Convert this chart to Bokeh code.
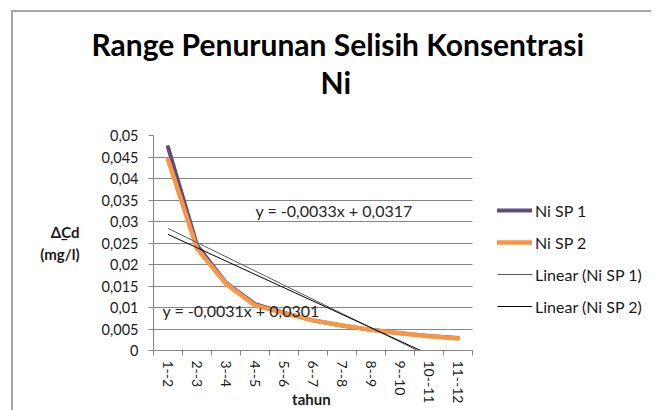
from bokeh.plotting import figure
from bokeh.models import (FixedTicker, CustomJSTickFormatter, Label, Legend,
                          LegendItem, Range1d, Title)
from bokeh.embed import file_html
from bokeh.resources import INLINE

# ---- data ----
categories = ["1--2", "2--3", "3--4", "4--5", "5--6", "6--7",
              "7--8", "8--9", "9--10", "10--11", "11--12"]
ni_sp1 = [0.0473, 0.0245, 0.0157, 0.0108, 0.0088, 0.0070,
          0.0058, 0.0048, 0.0040, 0.0034, 0.0029]
ni_sp2 = [0.0444, 0.0237, 0.0155, 0.0105, 0.0087, 0.0070,
          0.0058, 0.0048, 0.0040, 0.0033, 0.0028]
series_names = ["Ni SP 1", "Ni SP 2"]
trend_names = ["Linear (Ni SP 1)", "Linear (Ni SP 2)"]
trend_slope = [-0.0033, -0.0031]
trend_intercept = [0.0317, 0.0301]
trend_labels = ["y = -0,0033x + 0,0317", "y = -0,0031x + 0,0301"]
y_ticks = [0, 0.005, 0.01, 0.015, 0.02, 0.025, 0.03, 0.035, 0.04, 0.045, 0.05]
y_tick_labels = ["0", "0,005", "0,01", "0,015", "0,02", "0,025",
                 "0,03", "0,035", "0,04", "0,045", "0,05"]
title_lines = ["Range Penurunan Selisih Konsentrasi", "Ni"]
y_title = "\u0394\u0332Cd\n(mg/l)"
x_title = "tahun"

FONT = "Lato"
GRID = "#868686"
PLOT_W = 319      # width of the category area in px
FRAME_W = 498     # frame also holds the legend area on its right
FRAME_H = 215
n = len(categories)
x_lo, x_hi = 0.5, n + 0.5

p = figure(frame_width=FRAME_W, frame_height=FRAME_H,
           x_range=Range1d(x_lo, x_lo + n * FRAME_W / PLOT_W), y_range=Range1d(0, 0.05),
           output_backend="svg", toolbar_location=None, title=None,
           min_border_left=140, min_border_right=0,
           min_border_top=123, min_border_bottom=58)
p.styles = {"margin-left": "11px", "margin-top": "10px",
            "border-left": "2px solid #a6a6a6", "border-top": "2px solid #a6a6a6"}
p.outline_line_color = None

x = list(range(1, n + 1))

# grid lines limited to the category area
try:
    p.ygrid.cross_bounds = (x_lo, x_hi)
    p.ygrid.ticker = FixedTicker(ticks=y_ticks)
    p.ygrid.grid_line_color = GRID
    p.ygrid.grid_line_width = 1
except Exception:
    p.ygrid.visible = False
    p.segment(x0=[x_lo] * len(y_ticks), x1=[x_hi] * len(y_ticks), y0=y_ticks, y1=y_ticks,
              line_color=GRID, line_width=1, level="underlay")
p.xgrid.visible = False

r1 = p.line(x, ni_sp1, line_color="#604A7B", line_width=4, line_join="round", line_cap="round")
r2 = p.line(x, ni_sp2, line_color="#F79646", line_width=4.5, line_join="round", line_cap="round")

xs = [x[0], x[-1]]
t1 = p.line(xs, [trend_slope[0] * v + trend_intercept[0] for v in xs], line_color="#595959", line_width=1)
t2 = p.line(xs, [trend_slope[1] * v + trend_intercept[1] for v in xs], line_color="#000000", line_width=1)

# x axis
p.xaxis.bounds = (x_lo, x_hi)
p.xaxis.ticker = FixedTicker(ticks=x, minor_ticks=[i + 0.5 for i in range(0, n + 1)])
p.xaxis.formatter = CustomJSTickFormatter(args=dict(cats=categories),
                                          code="return cats[Math.round(tick) - 1] || '';")
p.xaxis.major_label_orientation = "vertical"
p.xaxis.major_tick_line_color = None
p.xaxis.major_tick_out = 5
p.xaxis.major_tick_in = 0
p.xaxis.minor_tick_line_color = GRID
p.xaxis.minor_tick_out = 5
p.xaxis.minor_tick_in = 0
p.xaxis.axis_line_color = GRID
p.xaxis.major_label_standoff = 5
p.xaxis.major_label_text_font = FONT
p.xaxis.major_label_text_font_size = "14px"
p.xaxis.major_label_text_color = "#1a1a1a"
# the label is centred on the whole frame; trailing no-break spaces move the
# visible word back to the centre of the category axis
p.xaxis.axis_label = x_title + "\u00a0" * 50
p.xaxis.axis_label_standoff = -16
p.xaxis.axis_label_text_font = FONT
p.xaxis.axis_label_text_font_style = "bold"
p.xaxis.axis_label_text_font_size = "15px"
p.xaxis.axis_label_text_color = "#1a1a1a"

# y axis
p.yaxis.ticker = FixedTicker(ticks=y_ticks)
p.yaxis.formatter = CustomJSTickFormatter(args=dict(vals=y_ticks, labs=y_tick_labels), code="""
let best = 0;
for (let i = 0; i < vals.length; i++) {
  if (Math.abs(vals[i] - tick) < Math.abs(vals[best] - tick)) best = i;
}
return labs[best];
""")
p.yaxis.major_tick_out = 5
p.yaxis.major_tick_in = 0
p.yaxis.major_tick_line_color = GRID
p.yaxis.minor_tick_line_color = None
p.yaxis.axis_line_color = GRID
p.yaxis.major_label_standoff = 10
p.yaxis.major_label_text_font = FONT
p.yaxis.major_label_text_font_size = "14.5px"
p.yaxis.major_label_text_color = "#1a1a1a"
p.yaxis.axis_label = y_title
p.yaxis.axis_label_orientation = "horizontal"
p.yaxis.axis_label_standoff = 19
p.yaxis.axis_label_text_font = FONT
p.yaxis.axis_label_text_font_style = "bold"
p.yaxis.axis_label_text_font_size = "15px"
p.yaxis.axis_label_text_color = "#1a1a1a"

# legend (inside the frame's right-hand area, beyond the category axis)
legend = Legend(items=[LegendItem(label=series_names[0], renderers=[r1]),
                       LegendItem(label=series_names[1], renderers=[r2]),
                       LegendItem(label=trend_names[0], renderers=[t1]),
                       LegendItem(label=trend_names[1], renderers=[t2])],
                location=(344, 34), orientation="vertical",
                glyph_width=35, glyph_height=20, label_height=20,
                spacing=12, padding=0, margin=0, border_line_color=None,
                background_fill_alpha=0, label_standoff=3, label_text_font=FONT,
                label_text_font_size="16px", label_text_color="#1a1a1a")
p.add_layout(legend)

# titles (left aligned with offsets so that both lines centre on the chart)
p.add_layout(Title(text=title_lines[1], align="left", offset=167, standoff=72,
                   text_font=FONT, text_font_style="bold",
                   text_font_size="30px", text_color="#000000"), "above")
p.add_layout(Title(text=title_lines[0], align="left", offset=-62, standoff=-73,
                   text_font=FONT, text_font_style="bold",
                   text_font_size="30px", text_color="#000000"), "above")

# trendline equations
p.add_layout(Label(x=4.017, y=0.03256, text=trend_labels[0], text_baseline="middle",
                   text_font=FONT, text_font_size="16px", text_color="#262626"))
p.add_layout(Label(x=0.81, y=0.0093, text=trend_labels[1], text_baseline="middle",
                   text_font=FONT, text_font_size="16px", text_color="#262626"))

open("out.html", "w").write(file_html(p, INLINE))
